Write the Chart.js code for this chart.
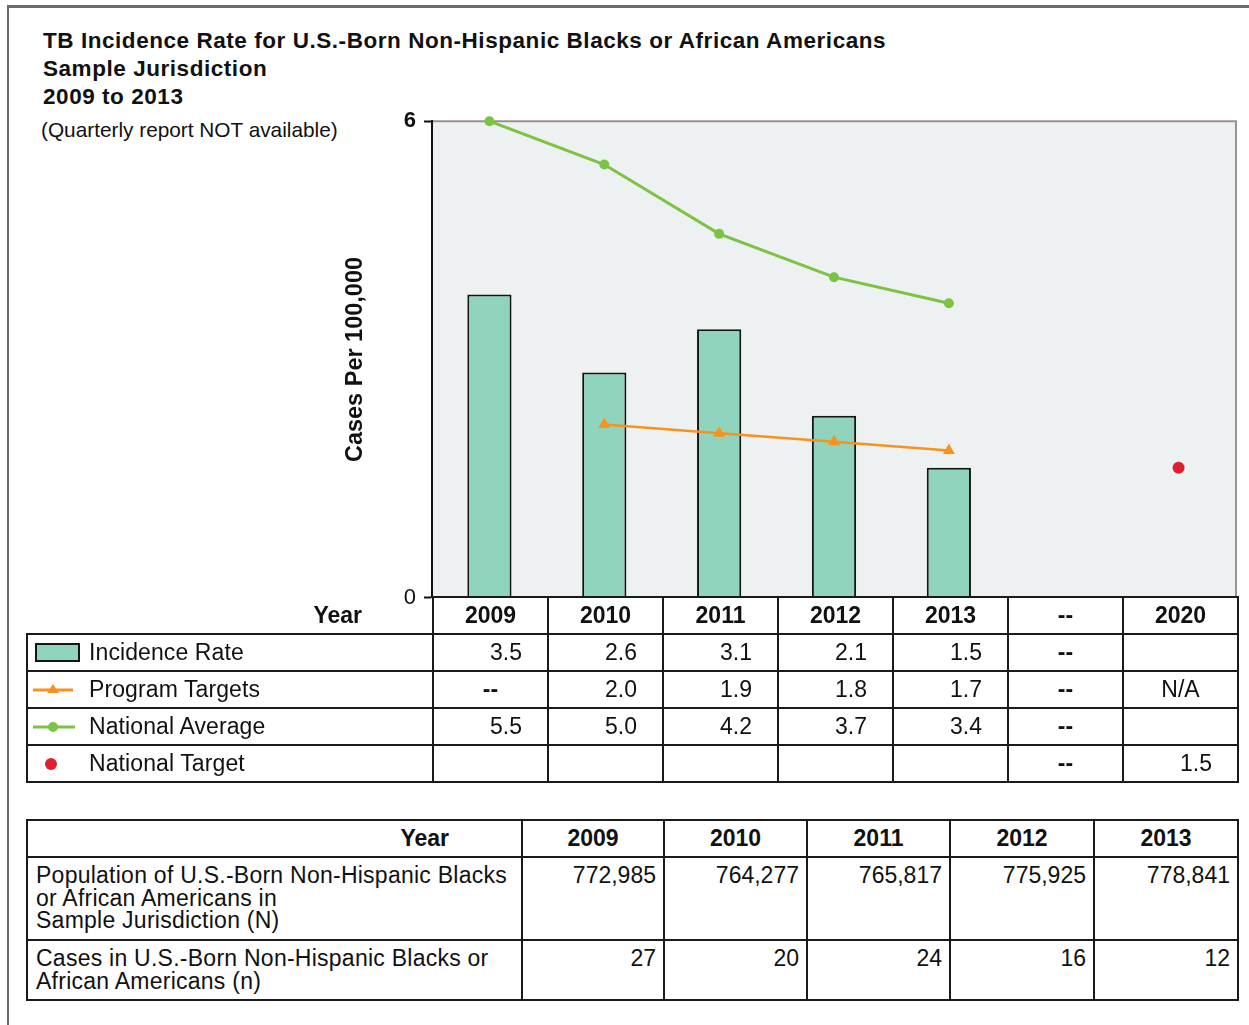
<!DOCTYPE html>
<html>
<head>
<meta charset="utf-8">
<script src="https://cdn.jsdelivr.net/npm/chart.js@4.4.1/dist/chart.umd.min.js"></script>
<style>
  html, body { margin:0; padding:0; background:#fff; }
  body { width:1249px; height:1025px; position:relative; overflow:hidden;
         font-family:"Liberation Sans", Arial, Helvetica, sans-serif; color:#111; }
  #frame { position:absolute; left:7px; top:5px; width:1400px; height:1200px;
           border-left:2px solid #6b6b6b; border-top:3px solid #6b6b6b; }
  #title { position:absolute; left:43px; top:27px; font-weight:bold; font-size:22.5px;
           line-height:28px; letter-spacing:0.55px; white-space:nowrap; }
  #subtitle { position:absolute; left:41px; top:118px; font-size:20.8px; line-height:24px; white-space:nowrap; }
  #chartBox { position:absolute; left:330px; top:100px; width:913px; height:519px; }
  table { position:absolute; border-collapse:collapse; table-layout:fixed; font-size:23px; }
  td, th { border:2px solid #1a1a1a; padding:0; white-space:nowrap; overflow:hidden; }
  #t1 { left:26px; top:596px; width:1211px; }
  #t1 tr { height:37px; }
  #t1 th { font-weight:bold; text-align:center; }
  #t1 th.corner { border-top:none; border-left:none; text-align:right; padding-right:70px; }
  #t1 td { vertical-align:middle; }
  #t1 td.lab { position:relative; padding-left:61px; text-align:left; letter-spacing:0.1px; }
  #t1 td.num { text-align:right; padding-right:25px; }
  #t1 td.ctr { text-align:center; font-weight:bold; }
  .ico { position:absolute; left:3px; top:50%; transform:translateY(-50%); width:50px; height:22px; }
  #t2 { left:26px; top:819px; width:1211px; line-height:22.5px; }
  #t2 th { font-weight:bold; text-align:center; height:35px; }
  #t2 th.corner { text-align:right; padding-right:72px; }
  #t2 td { vertical-align:top; padding-top:6px; }
  #t2 td.lab { padding-left:8px; text-align:left; letter-spacing:0.25px; }
  #t2 td.num { text-align:right; padding-right:7px; }
</style>
</head>
<body>
<div id="frame"></div>
<div id="title">TB Incidence Rate for U.S.-Born Non-Hispanic Blacks or African Americans<br>Sample Jurisdiction<br>2009 to 2013</div>
<div id="subtitle">(Quarterly report NOT available)</div>
<div id="chartBox"><canvas id="c" width="913" height="519"></canvas></div>
<table id="t1"></table>
<table id="t2"></table>
<script>
// ---------- data ----------
const categories = ['2009', '2010', '2011', '2012', '2013', '--', '2020'];
const incidenceRate = [3.5, 2.6, 3.1, 2.1, 1.5, null, null];
const programTargets = [null, 2.0, 1.9, 1.8, 1.7, null, null];
const nationalAverage = [5.5, 5.0, 4.2, 3.7, 3.4, null, null];
const nationalTarget = [null, null, null, null, null, null, 1.5];
// text shown in table cells where a series has no value
const incidenceRateGaps = ['', '', '', '', '', '--', ''];
const programTargetsGaps = ['--', '', '', '', '', '--', 'N/A'];
const nationalAverageGaps = ['', '', '', '', '', '--', ''];
const nationalTargetGaps = ['', '', '', '', '', '--', ''];
const yTickValues = [0, 5.5];
const yTickLabels = ['0', '6'];

const popYears = ['2009', '2010', '2011', '2012', '2013'];
const population = [772985, 764277, 765817, 775925, 778841];
const cases = [27, 20, 24, 16, 12];

// ---------- colours ----------
const BAR = '#90d4bd', GREEN = '#7cc243', ORANGE = '#f7921e', RED = '#e01f2e';
const FONT = '"Liberation Sans", Arial, Helvetica, sans-serif';

// ---------- chart ----------
const plotBg = {
  id: 'plotBg',
  beforeDraw(chart) {
    const { ctx, chartArea: a } = chart;
    ctx.save();
    ctx.fillStyle = '#eef1f1';
    ctx.fillRect(a.left, a.top, a.right - a.left, a.bottom - a.top);
    ctx.strokeStyle = '#9a9292';
    ctx.lineWidth = 2;
    ctx.beginPath();
    ctx.moveTo(a.left, a.top);
    ctx.lineTo(a.right, a.top);
    ctx.lineTo(a.right, a.bottom);
    ctx.stroke();
    ctx.restore();
  }
};

new Chart(document.getElementById('c'), {
  type: 'bar',
  data: {
    labels: categories,
    datasets: [
      { type: 'line', label: 'National Average', data: nationalAverage, borderColor: GREEN,
        backgroundColor: GREEN, borderWidth: 3, pointRadius: 5, pointStyle: 'circle',
        pointBorderWidth: 0, clip: false, order: 1 },
      { type: 'line', label: 'Program Targets', data: programTargets, borderColor: ORANGE,
        backgroundColor: ORANGE, borderWidth: 2.5, pointRadius: 7, pointStyle: 'triangle',
        pointBorderWidth: 0, clip: false, order: 2 },
      { type: 'line', label: 'National Target', data: nationalTarget, showLine: false,
        borderColor: RED, backgroundColor: RED, pointRadius: 6, pointBorderWidth: 0,
        clip: false, order: 0 },
      { type: 'bar', label: 'Incidence Rate', data: incidenceRate, backgroundColor: BAR,
        borderColor: '#151515', borderWidth: 2, borderSkipped: 'bottom',
        barPercentage: 0.385, categoryPercentage: 1, order: 5 }
    ]
  },
  options: {
    responsive: false,
    devicePixelRatio: 1,
    animation: false,
    layout: { padding: { top: 20, right: 3, bottom: 0, left: 0 } },
    plugins: { legend: { display: false }, tooltip: { enabled: false } },
    scales: {
      x: { type: 'category', display: false, offset: true, grid: { display: false } },
      y: {
        min: 0, max: 5.5,
        afterBuildTicks: s => { s.ticks = yTickValues.map(v => ({ value: v })); },
        afterFit: s => { s.width = 102; },
        ticks: {
          callback: v => yTickLabels[yTickValues.indexOf(v)],
          color: '#111', padding: 8,
          font: ctx => ({ family: FONT, size: 22, weight: ctx.tick && ctx.tick.value === 0 ? 'normal' : 'bold' })
        },
        grid: { drawOnChartArea: false, drawTicks: true, tickLength: 8, tickColor: '#111', tickWidth: 2 },
        border: { display: true, color: '#111', width: 2 },
        title: { display: true, text: 'Cases Per 100,000', color: '#111',
                 font: { family: FONT, size: 23.5, weight: 'bold' }, padding: { top: 11, bottom: 0 } }
      }
    }
  },
  plugins: [plotBg]
});

// ---------- legend / data table ----------
const icons = {
  bar: `<svg class="ico" viewBox="0 0 50 22"><rect x="5" y="2" width="43" height="17" fill="${BAR}" stroke="#151515" stroke-width="2"/></svg>`,
  orange: `<svg class="ico" viewBox="0 0 50 22"><line x1="2" y1="11" x2="42" y2="11" stroke="${ORANGE}" stroke-width="3"/><polygon points="22,5 28,14 16,14" fill="${ORANGE}"/></svg>`,
  green: `<svg class="ico" viewBox="0 0 50 22"><line x1="2" y1="11" x2="44" y2="11" stroke="${GREEN}" stroke-width="3"/><circle cx="22" cy="11" r="5" fill="${GREEN}"/></svg>`,
  red: `<svg class="ico" viewBox="0 0 50 22"><circle cx="20" cy="11" r="6" fill="${RED}"/></svg>`
};
const rows = [
  { label: 'Incidence Rate', icon: 'bar', values: incidenceRate, gaps: incidenceRateGaps },
  { label: 'Program Targets', icon: 'orange', values: programTargets, gaps: programTargetsGaps },
  { label: 'National Average', icon: 'green', values: nationalAverage, gaps: nationalAverageGaps },
  { label: 'National Target', icon: 'red', values: nationalTarget, gaps: nationalTargetGaps }
];
let h1 = '<colgroup><col style="width:406px">' + categories.map(() => '<col style="width:115px">').join('') + '</colgroup>';
h1 += '<tr><th class="corner">Year</th>' + categories.map(c => `<th>${c}</th>`).join('') + '</tr>';
rows.forEach(r => {
  h1 += `<tr><td class="lab">${icons[r.icon]}${r.label}</td>`;
  r.values.forEach((v, i) => {
    if (v !== null) h1 += `<td class="num">${v.toFixed(1)}</td>`;
    else h1 += `<td class="ctr"${r.gaps[i] === 'N/A' ? ' style="font-weight:normal"' : ''}>${r.gaps[i]}</td>`;
  });
  h1 += '</tr>';
});
document.getElementById('t1').innerHTML = h1;

// ---------- population table ----------
const fmt = n => n.toLocaleString('en-US');
let h2 = '<colgroup><col style="width:495px"><col style="width:142px"><col style="width:143px"><col style="width:143px"><col style="width:144px"><col style="width:144px"></colgroup>';
h2 += '<tr><th class="corner">Year</th>' + popYears.map(y => `<th>${y}</th>`).join('') + '</tr>';
h2 += '<tr style="height:83px"><td class="lab">Population of U.S.-Born Non-Hispanic Blacks<br>or African Americans in<br>Sample Jurisdiction (N)</td>' +
      population.map(p => `<td class="num">${fmt(p)}</td>`).join('') + '</tr>';
h2 += '<tr style="height:60px"><td class="lab">Cases in U.S.-Born Non-Hispanic Blacks or<br>African Americans (n)</td>' +
      cases.map(c => `<td class="num">${c}</td>`).join('') + '</tr>';
document.getElementById('t2').innerHTML = h2;
</script>
</body>
</html>
